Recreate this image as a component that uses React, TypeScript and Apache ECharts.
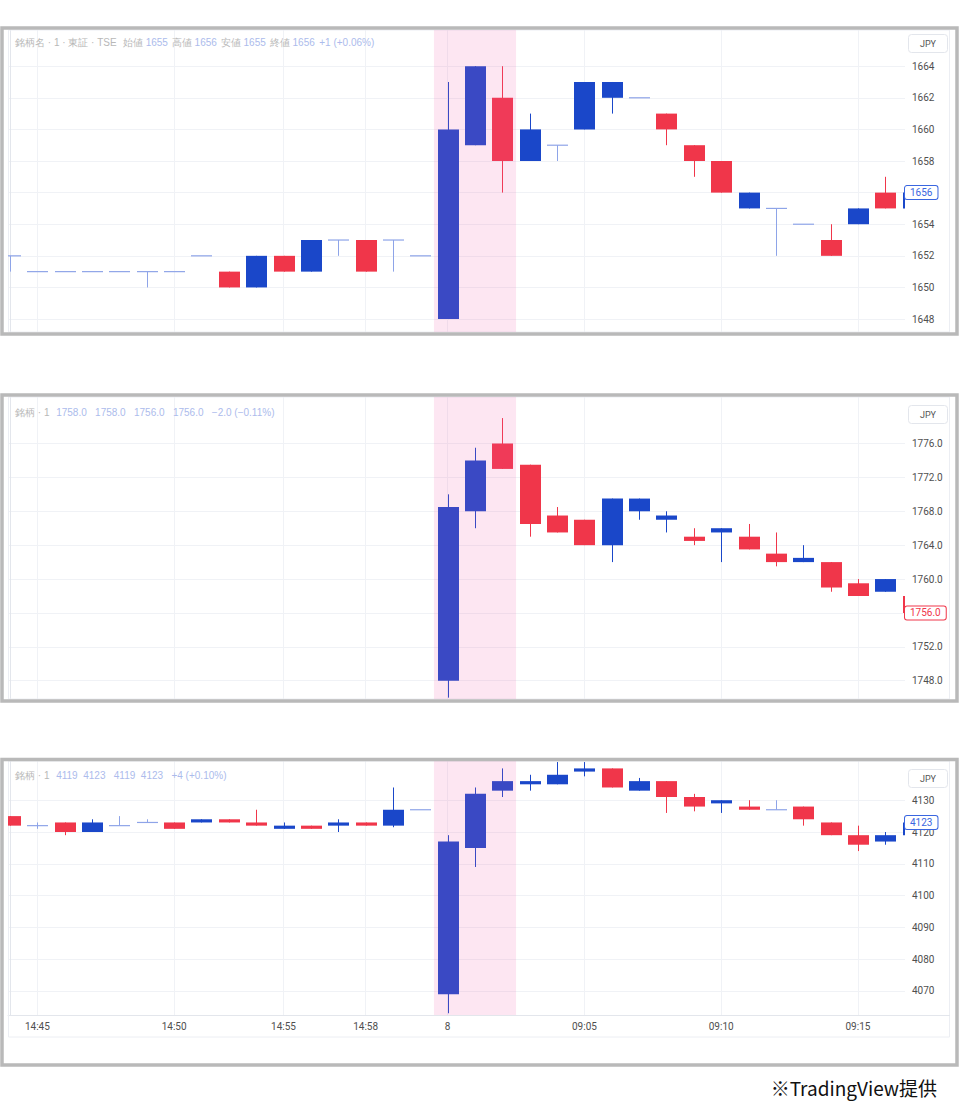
import React, { useEffect, useRef } from 'react';
import * as echarts from 'echarts';

// ---- categories (1-minute bars) ----
const categories = [
  '14:44', '14:45', '14:46', '14:47', '14:48', '14:49', '14:50', '14:51', '14:52',
  '14:54', '14:55', '14:56', '14:57', '14:58', '14:59', '15:00',
  '09:00', '09:01', '09:02', '09:03', '09:04', '09:05', '09:06', '09:07', '09:08',
  '09:09', '09:10', '09:11', '09:12', '09:13', '09:14', '09:15', '09:16', '09:17',
];
const xTickCats = ['14:45', '14:50', '14:55', '14:58', '09:00', '09:05', '09:10', '09:15'];
const xTickLabels = ['14:45', '14:50', '14:55', '14:58', '8', '09:05', '09:10', '09:15'];
const highlightFrom = '09:00';
const highlightTo = '09:02';

// ---- OHLC data: [open, close, low, high] ----
const stockA: (number[] | null)[] = [
  [1652, 1652, 1651, 1652], [1651, 1651, 1651, 1651], [1651, 1651, 1651, 1651], [1651, 1651, 1651, 1651],
  [1651, 1651, 1651, 1651], [1651, 1651, 1650, 1651], [1651, 1651, 1651, 1651], [1652, 1652, 1652, 1652],
  [1651, 1650, 1650, 1651], [1650, 1652, 1650, 1652], [1652, 1651, 1651, 1652], [1651, 1653, 1651, 1653],
  [1653, 1653, 1652, 1653], [1653, 1651, 1651, 1653], [1653, 1653, 1651, 1653], [1652, 1652, 1652, 1652],
  [1648, 1660, 1648, 1663], [1659, 1664, 1659, 1664], [1662, 1658, 1656, 1664], [1658, 1660, 1658, 1661],
  [1659, 1659, 1658, 1659], [1660, 1663, 1660, 1663], [1662, 1663, 1661, 1663], [1662, 1662, 1662, 1662],
  [1661, 1660, 1659, 1661], [1659, 1658, 1657, 1659], [1658, 1656, 1656, 1658], [1655, 1656, 1655, 1656],
  [1655, 1655, 1652, 1655], [1654, 1654, 1654, 1654], [1653, 1652, 1652, 1654], [1654, 1655, 1654, 1655],
  [1656, 1655, 1655, 1657], [1655, 1656, 1655, 1656],
];
const stockB: (number[] | null)[] = [
  null, null, null, null, null, null, null, null, null, null, null, null, null, null, null, null,
  [1748, 1768.5, 1746, 1770], [1768, 1774, 1766, 1775.5], [1776, 1773, 1773, 1779], [1773.5, 1766.5, 1765, 1773.5],
  [1767.5, 1765.5, 1765.5, 1768.5], [1767, 1764, 1764, 1767], [1764, 1769.5, 1762, 1769.5], [1768, 1769.5, 1767, 1769.5],
  [1767, 1767.5, 1765.5, 1768], [1765, 1764.5, 1764, 1766], [1765.5, 1766, 1762, 1766], [1765, 1763.5, 1763.5, 1766.5],
  [1763, 1762, 1761.5, 1765.5], [1762, 1762.5, 1762, 1764], [1762, 1759, 1758.5, 1762], [1759.5, 1758, 1758, 1760],
  [1758.5, 1760, 1758.5, 1760], [1758, 1756, 1756, 1758],
];
const stockC: (number[] | null)[] = [
  [4125, 4122, 4122, 4125], [4122, 4122, 4121, 4123], [4123, 4120, 4119, 4123], [4120, 4123, 4120, 4124],
  [4122, 4122, 4122, 4125], [4123, 4123, 4123, 4124], [4123, 4121, 4121, 4123], [4123, 4124, 4123, 4124],
  [4124, 4123, 4123, 4124], [4123, 4122, 4122, 4127], [4121, 4122, 4121, 4123], [4122, 4121, 4121, 4122],
  [4122, 4123, 4120, 4124], [4123, 4122, 4122, 4123], [4122, 4127, 4121.5, 4134], [4127, 4127, 4127, 4127],
  [4069, 4117, 4063, 4119], [4115, 4132, 4109, 4134], [4133, 4136, 4131, 4140], [4135, 4136, 4133, 4138],
  [4135, 4138, 4135, 4142], [4139, 4140, 4137.5, 4142], [4140, 4134, 4134, 4140], [4133, 4136, 4133, 4137],
  [4136, 4131, 4126, 4136], [4131, 4128, 4126.5, 4132], [4129, 4130, 4126, 4130], [4128, 4127, 4127, 4130],
  [4127, 4127, 4127, 4130], [4128, 4124, 4122, 4128], [4123, 4119, 4119, 4123], [4119, 4116, 4114, 4122],
  [4117, 4119, 4116, 4120], [4119, 4123, 4119, 4123],
];

// ---- axis tick values ----
const yTicksA = [1648, 1650, 1652, 1654, 1656, 1658, 1660, 1662, 1664];
const yTicksB = [1748, 1752, 1756, 1760, 1764, 1768, 1772, 1776];
const yTicksC = [4070, 4080, 4090, 4100, 4110, 4120, 4130];
const lastA = 1656;
const lastB = 1756;
const lastC = 4123;

// ---- styles ----
const UP = '#1a47c9';
const DOWN = '#f0364a';
const DOJI = '#8ea4e8';
const GRID_LINE = '#f0f2f6';
const AXIS_LINE = '#e3e6ec';
const LABEL = '#4f4f4f';
const BAND = 'rgba(242, 88, 168, 0.15)';
const FONT = 'Roboto, "Noto Sans", sans-serif';
const X_MIN = -0.073;
const X_MAX = 32.72;
const BODY_W = 21;

const panels = [
  {
    data: stockA, yTicks: yTicksA, last: lastA, digits: 0, tag: '#3a66e0',
    yMin: 1647.18, yMax: 1666.29, top: 30, height: 302, frameY: 28, frameH: 306,
    showTime: false, headerY: 42, jpyY: 34,
    header: '{g|銘柄名 · 1 · 東証 · TSE}   {g|始値} {b|1655}  {g|高値} {b|1656}  {g|安値} {b|1655}  {g|終値} {b|1656}  {b|+1 (+0.06%)}',
  },
  {
    data: stockB, yTicks: yTicksB, last: lastB, digits: 1, tag: '#f0364a',
    yMin: 1745.84, yMax: 1781.49, top: 397, height: 302, frameY: 395, frameH: 306,
    showTime: false, headerY: 412, jpyY: 405,
    header: '{g|銘柄 · 1}   {b|1758.0   1758.0   1756.0   1756.0   −2.0 (−0.11%)}',
  },
  {
    data: stockC, yTicks: yTicksC, last: lastC, digits: 0, tag: '#3a66e0',
    yMin: 4062.45, yMax: 4142.33, top: 761, height: 254, frameY: 759.5, frameH: 305.5,
    showTime: true, headerY: 775, jpyY: 769,
    header: '{g|銘柄 · 1}   {b|4119  4123   4119  4123   +4 (+0.10%)}',
  },
];

function buildOption() {
  const xTickIdx = xTickCats.map((c) => categories.indexOf(c));
  const bandFrom = categories.indexOf(highlightFrom) - 0.5;
  const bandTo = categories.indexOf(highlightTo) + 0.5;

  const grid: any[] = [];
  const xAxis: any[] = [];
  const yAxis: any[] = [];
  const series: any[] = [];
  const graphic: any[] = [];

  panels.forEach((p, i) => {
    grid.push({ left: 8, top: p.top, width: 897, height: p.height, containLabel: false, outerBoundsMode: 'none' });
    xAxis.push({
      type: 'value', gridIndex: i, min: X_MIN, max: X_MAX,
      axisLine: { show: p.showTime, lineStyle: { color: AXIS_LINE } },
      axisTick: { show: false, customValues: xTickIdx },
      axisLabel: {
        show: p.showTime, customValues: xTickIdx, fontSize: 10, color: LABEL, margin: 6, fontFamily: FONT,
        formatter: (v: number) => xTickLabels[xTickIdx.indexOf(Math.round(v))] ?? '',
      },
      splitLine: { show: true, lineStyle: { color: GRID_LINE, width: 1 } },
    });
    yAxis.push({
      type: 'value', gridIndex: i, position: 'right', min: p.yMin, max: p.yMax,
      axisLine: { show: true, lineStyle: { color: AXIS_LINE } },
      axisTick: { show: false, customValues: p.yTicks },
      axisLabel: {
        customValues: p.yTicks, fontSize: 10, color: LABEL, margin: 7, fontFamily: FONT,
        formatter: (v: number) => v.toFixed(p.digits),
      },
      splitLine: { show: true, lineStyle: { color: GRID_LINE, width: 1 } },
    });

    const items = p.data
      .map((d, idx) => (d ? [idx, d[0], d[1], d[2], d[3]] : null))
      .filter(Boolean);

    // candles (custom series so that they clip at the plot edges)
    series.push({
      type: 'custom', xAxisIndex: i, yAxisIndex: i, z: 2, silent: true, clip: true,
      encode: { x: 0, y: [1, 2, 3, 4] },
      data: items,
      renderItem: (params: any, api: any) => {
        const x = api.value(0);
        const o = api.value(1);
        const c = api.value(2);
        const l = api.value(3);
        const h = api.value(4);
        const pO = api.coord([x, o]);
        const pC = api.coord([x, c]);
        const pL = api.coord([x, l]);
        const pH = api.coord([x, h]);
        const cx = Math.round(pO[0]) + 0.5;
        const color = o === c ? DOJI : c > o ? UP : DOWN;
        const top = Math.min(pO[1], pC[1]);
        const bot = Math.max(pO[1], pC[1]);
        const children: any[] = [
          { type: 'line', shape: { x1: cx, y1: pH[1], x2: cx, y2: pL[1] }, style: { stroke: color, lineWidth: 1 } },
        ];
        if (o === c) {
          children.push({
            type: 'line',
            shape: { x1: cx - BODY_W / 2, y1: pO[1], x2: cx + BODY_W / 2, y2: pO[1] },
            style: { stroke: color, lineWidth: 1.2 },
          });
        } else {
          children.push({
            type: 'rect',
            shape: { x: cx - BODY_W / 2, y: top, width: BODY_W, height: Math.max(bot - top, 1.5) },
            style: { fill: color },
          });
        }
        return { type: 'group', children };
      },
    });

    // highlighted opening range
    series.push({
      type: 'custom', xAxisIndex: i, yAxisIndex: i, z: 5, silent: true, clip: false,
      data: [[bandFrom, bandTo]],
      renderItem: (params: any, api: any) => {
        const cs = params.coordSys;
        const x0 = api.coord([api.value(0), p.yMin])[0];
        const x1 = api.coord([api.value(1), p.yMin])[0];
        return {
          type: 'rect',
          shape: { x: x0, y: cs.y, width: x1 - x0, height: cs.height },
          style: { fill: BAND },
        };
      },
    });

    // last-price tag on the price scale
    series.push({
      type: 'line', xAxisIndex: i, yAxisIndex: i, z: 6, silent: true, clip: false,
      data: [], showSymbol: false,
      markLine: {
        silent: true, symbol: ['none', 'none'], animation: false,
        lineStyle: { width: 0, color: 'rgba(0,0,0,0)', type: 'solid' },
        label: {
          show: true, position: 'end', distance: 0, opacity: 1,
          formatter: () => p.last.toFixed(p.digits),
          color: p.tag, backgroundColor: '#fff', borderColor: p.tag, borderWidth: 1, borderRadius: 2,
          padding: [2, 5, 1, 5], fontSize: 10, fontFamily: FONT,
        },
        data: [{ yAxis: p.last }],
      },
    });

    // panel outer border
    graphic.push({
      type: 'rect', z: 100, silent: true,
      shape: { x: 2, y: p.frameY, width: 955, height: p.frameH },
      style: { fill: 'none', stroke: '#b9b9b9', lineWidth: 3.5 },
    });
    // chart frame
    const frameBottom = p.showTime ? 1037 : p.top + p.height;
    graphic.push({
      type: 'rect', z: 1, silent: true,
      shape: { x: 8.5, y: p.top, width: 941, height: frameBottom - p.top },
      style: { fill: 'none', stroke: '#eceef3', lineWidth: 1 },
    });
    if (p.showTime) {
      graphic.push({
        type: 'line', z: 1, silent: true,
        shape: { x1: 905, y1: p.top + p.height + 0.5, x2: 950, y2: p.top + p.height + 0.5 },
        style: { stroke: AXIS_LINE, lineWidth: 1 },
      });
    }
    // JPY box
    graphic.push({
      type: 'group', z: 50, silent: true,
      children: [
        {
          type: 'rect', shape: { x: 908.5, y: p.jpyY + 0.5, width: 39, height: 18, r: 3 },
          style: { fill: '#fff', stroke: '#e3e6ec', lineWidth: 1 },
        },
        {
          type: 'text', x: 928, y: p.jpyY + 9.5,
          style: { text: 'JPY', fontSize: 9, fill: '#555', align: 'center', verticalAlign: 'middle', fontFamily: FONT },
        },
      ],
    });
    // header (legend line)
    graphic.push({
      type: 'text', z: 50, silent: true, x: 15, y: p.headerY,
      style: {
        text: p.header, verticalAlign: 'middle', fontSize: 10, fontFamily: '"Noto Sans CJK JP", sans-serif',
        rich: {
          g: { fill: '#b8b8b8', fontSize: 10 },
          b: { fill: '#acbbec', fontSize: 10 },
        },
      },
    });
  });

  graphic.push({
    type: 'text', z: 50, silent: true, x: 937, y: 1087,
    style: {
      text: '※TradingView提供', fontSize: 19, fill: '#111', align: 'right', verticalAlign: 'middle',
      fontFamily: '"Noto Sans CJK JP", sans-serif',
    },
  });

  return {
    animation: false,
    backgroundColor: '#fff',
    grid, xAxis, yAxis, series, graphic,
  };
}

export default function App() {
  const ref = useRef<HTMLDivElement>(null);
  useEffect(() => {
    const chart = echarts.init(ref.current!, undefined, { renderer: 'svg' });
    chart.setOption(buildOption() as any);
    return () => chart.dispose();
  }, []);
  return (
    <div
      ref={ref}
      style={{ position: 'absolute', left: 0, top: 0, width: 960, height: 1111, background: '#fff' }}
    />
  );
}
